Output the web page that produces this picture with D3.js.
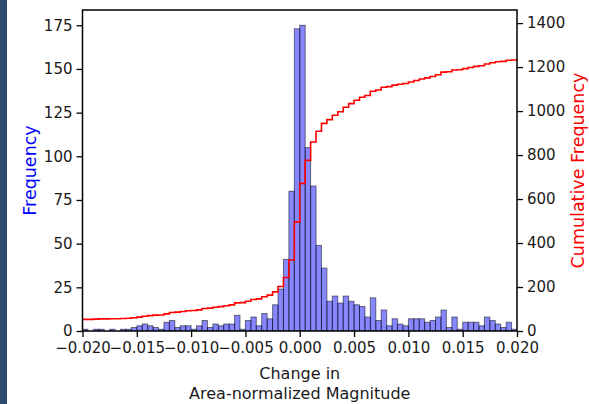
<!DOCTYPE html>
<html>
<head>
<meta charset="utf-8">
<script src="https://cdn.jsdelivr.net/npm/d3@7"></script>
<style>
  body { margin: 0; background: #fff; }
  svg { display: block; font-family: "DejaVu Sans", sans-serif; }
</style>
</head>
<body>
<svg id="chart" width="589" height="404"></svg>
<script>
// Histogram bins: 80 bins of width 0.0005 covering [-0.020, 0.020]
const binStart = -0.020;
const binWidth = 0.0005;
const counts = [
  1, 0, 1, 1, 0, 1, 0, 1, 1, 2,
  3, 4, 3, 2, 1, 5, 6, 2, 3, 3,
  1, 3, 6, 2, 4, 3, 4, 4, 9, 1,
  6, 8, 3, 10, 7, 15, 24, 41, 80, 173,
  175, 105, 83, 49, 36, 17, 20, 16, 20, 17,
  15, 14, 8, 19, 6, 12, 3, 7, 4, 3,
  7, 7, 7, 5, 6, 8, 12, 2, 8, 1,
  5, 5, 5, 3, 8, 6, 4, 2, 5, 1
];
// samples lying left of the visible range, and the full sample size
const belowRangeCount = 52;
const totalCount = 1390;

const xTicks = [-0.020, -0.015, -0.010, -0.005, 0.000, 0.005, 0.010, 0.015, 0.020];
const freqTicks = [0, 25, 50, 75, 100, 125, 150, 175];
const cumTicks = [0, 200, 400, 600, 800, 1000, 1200, 1400];

const svg = d3.select("#chart");
const W = 589, H = 404;
const m = { left: 82.5, right: 517, top: 10, bottom: 331 };

// dark edge strip on the left of the figure
svg.append("rect").attr("x", 0).attr("y", 0).attr("width", 7).attr("height", H)
  .attr("fill", "#2a4a6e");

const x = d3.scaleLinear().domain([-0.020, 0.020]).range([m.left, m.right]);
const yL = d3.scaleLinear().domain([0, d3.max(counts) * 1.05]).range([m.bottom, m.top]);
const yR = d3.scaleLinear().domain([0, totalCount * 1.05]).range([m.bottom, m.top]);

svg.append("defs").append("clipPath").attr("id", "plotClip")
  .append("rect").attr("x", m.left).attr("y", m.top)
  .attr("width", m.right - m.left).attr("height", m.bottom - m.top);

const bins = counts.map((c, i) => ({
  x0: binStart + i * binWidth,
  x1: binStart + (i + 1) * binWidth,
  count: c
}));

// frequency bars
svg.append("g").attr("clip-path", "url(#plotClip)")
  .selectAll("rect").data(bins.filter(d => d.count > 0)).join("rect")
  .attr("x", d => x(d.x0))
  .attr("width", d => x(d.x1) - x(d.x0))
  .attr("y", d => yL(d.count))
  .attr("height", d => yL(0) - yL(d.count))
  .attr("fill", "blue").attr("fill-opacity", 0.47)
  .attr("stroke", "#000").attr("stroke-opacity", 0.5).attr("stroke-width", 1);

// cumulative frequency step line
const cum = d3.cumsum(counts).map(v => v + belowRangeCount);
const stepPts = bins.map((d, i) => [d.x0, cum[i]]);
stepPts.push([bins[bins.length - 1].x1, cum[cum.length - 1]]);
svg.append("path").attr("clip-path", "url(#plotClip)")
  .attr("d", d3.line().x(d => x(d[0])).y(d => yR(d[1])).curve(d3.curveStepAfter)(stepPts))
  .attr("fill", "none").attr("stroke", "red").attr("stroke-width", 1.6);

// axes
const tickColor = "#1a1a1a";
function styleAxis(g) {
  g.select(".domain").remove();
  g.selectAll(".tick line").attr("stroke", "#000").attr("stroke-width", 1.3);
  g.selectAll(".tick text").attr("fill", tickColor).attr("font-size", 15)
    .attr("font-family", "DejaVu Sans");
}
svg.append("g").attr("transform", `translate(${m.left},0)`)
  .call(d3.axisLeft(yL).tickValues(freqTicks).tickSize(6).tickPadding(4).tickFormat(d3.format("d")))
  .call(styleAxis);
svg.append("g").attr("transform", `translate(${m.right},0)`)
  .call(d3.axisRight(yR).tickValues(cumTicks).tickSize(6).tickPadding(4).tickFormat(d3.format("d")))
  .call(styleAxis);
svg.append("g").attr("transform", `translate(0,${m.bottom})`)
  .call(d3.axisBottom(x).tickValues(xTicks).tickSize(6).tickPadding(5).tickFormat(d3.format(".3f")))
  .call(styleAxis);

// frame
svg.append("rect").attr("x", m.left).attr("y", m.top)
  .attr("width", m.right - m.left).attr("height", m.bottom - m.top)
  .attr("fill", "none").attr("stroke", "#000").attr("stroke-width", 1.5);

// axis titles
svg.append("text").attr("transform", `translate(36,${(m.top + m.bottom) / 2}) rotate(-90)`)
  .attr("text-anchor", "middle").attr("fill", "blue").attr("font-size", 17.5)
  .text("Frequency");
svg.append("text").attr("transform", `translate(584,${(m.top + m.bottom) / 2}) rotate(-90)`)
  .attr("text-anchor", "middle").attr("fill", "red").attr("font-size", 17.5)
  .text("Cumulative Frequency");
const cx = (m.left + m.right) / 2;
svg.append("text").attr("x", cx).attr("y", 379).attr("text-anchor", "middle")
  .attr("fill", tickColor).attr("font-size", 16).text("Change in");
svg.append("text").attr("x", cx).attr("y", 399).attr("text-anchor", "middle")
  .attr("fill", tickColor).attr("font-size", 16).text("Area-normalized Magnitude");
</script>
</body>
</html>
